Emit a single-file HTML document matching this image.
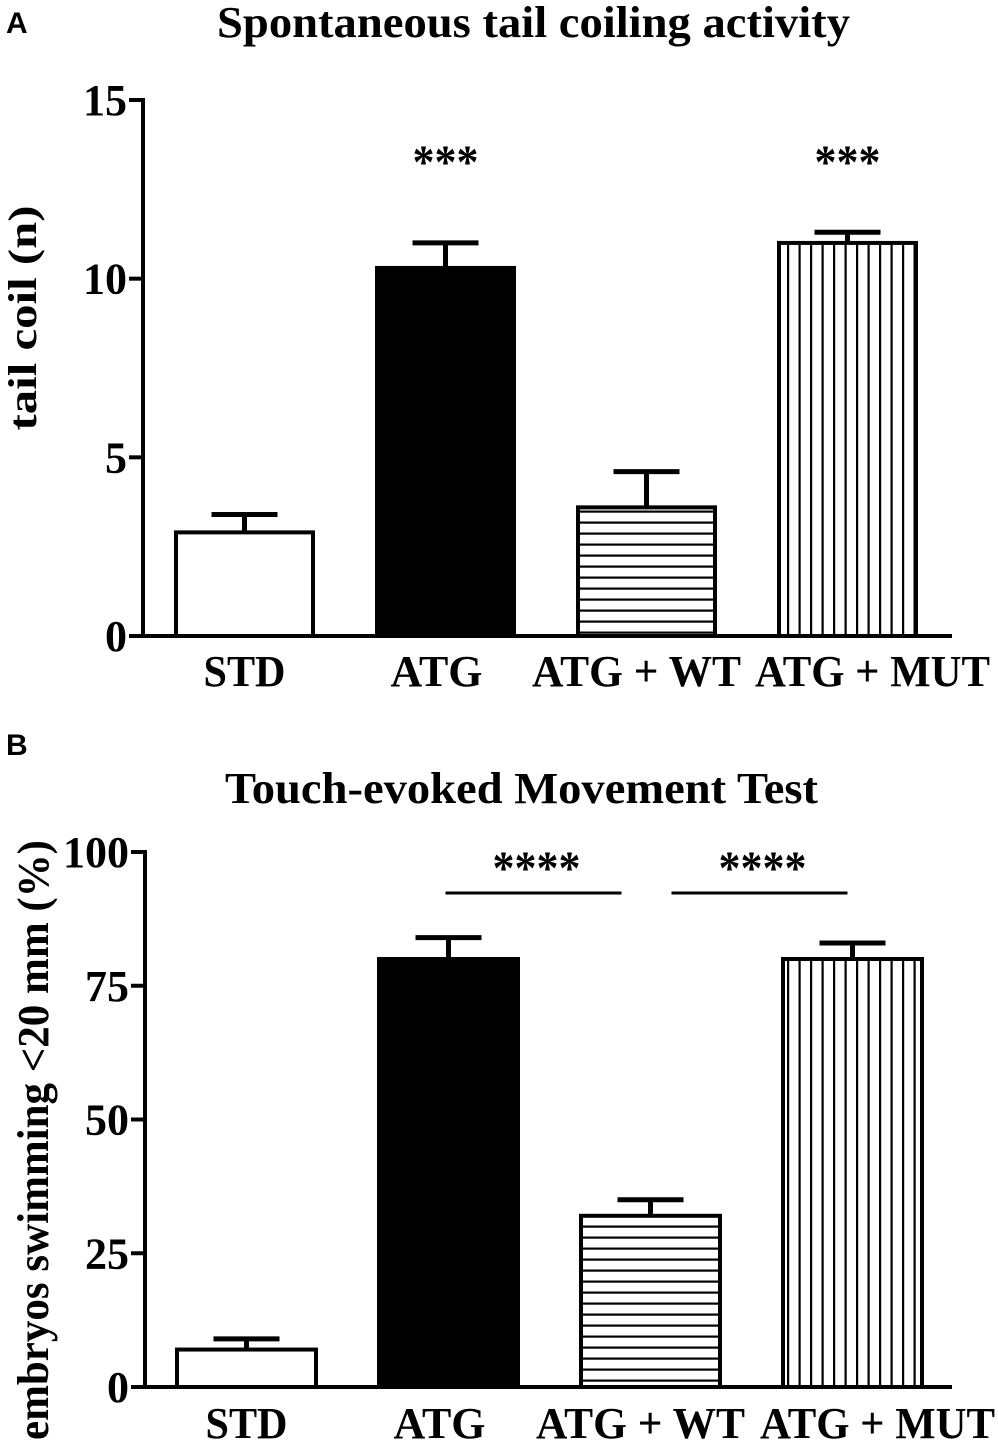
<!DOCTYPE html>
<html><head><meta charset="utf-8"><style>
html,body{margin:0;padding:0;background:#fff}
svg{display:block}
text{font-family:"Liberation Serif",serif;font-weight:bold;fill:#000}
</style></head><body>
<svg id="chart" width="998" height="1442" xmlns="http://www.w3.org/2000/svg">
<defs>
<pattern id="hpat" width="12" height="11" patternUnits="userSpaceOnUse"><rect width="12" height="11" fill="#fff"/><rect y="4.5" width="12" height="2.2" fill="#000"/></pattern>
<pattern id="vpat" width="11.5" height="12" patternUnits="userSpaceOnUse"><rect width="11.5" height="12" fill="#fff"/><rect x="5" width="2.2" height="12" fill="#000"/></pattern>
</defs>
<g id="gA"></g>
<g id="gB"></g>
</svg>
<script>
const categories=["STD","ATG","ATG + WT","ATG + MUT"];
const fills=["#fff","#000","url(#hpat)","url(#vpat)"];
const aValues=[2.9,10.3,3.6,11.0];
const aErrors=[0.5,0.7,1.0,0.3];
const aTicks=[0,5,10,15];
const aStars=["","***","","***"];
const bValues=[7,80,32,80];
const bErrors=[2,4,3,3];
const bTicks=[0,25,50,75,100];
const bSig=[[1,2,"****"],[2,3,"****"]];
const labW=[82,92,209,235];
const labDx=[0,-9,-10,25];
const NS="http://www.w3.org/2000/svg";
function mk(p,tag,a,txt){const e=document.createElementNS(NS,tag);for(const k in a)e.setAttribute(k,a[k]);if(txt!=null)e.textContent=txt;p.appendChild(e);return e;}
function panel(g,cfg){
  const y=v=>cfg.y0-(v-cfg.min)/(cfg.max-cfg.min)*(cfg.y0-cfg.y1);
  const x=i=>cfg.x0+i*cfg.step;
  let e=mk(g,'text',{x:6,y:cfg.letterY,'font-size':30,style:'font-family:Liberation Sans,sans-serif'},cfg.letter);
  
  e=mk(g,'text',{x:cfg.titleX1,y:cfg.titleY,'font-size':44,textLength:cfg.titleW,lengthAdjust:'spacingAndGlyphs'},cfg.title);
  
  e=mk(g,'text',{transform:`translate(${cfg.ylabX},${cfg.ylabC}) rotate(-90)`,'text-anchor':'middle','font-size':cfg.ylabSize,textLength:cfg.ylabW,lengthAdjust:'spacingAndGlyphs'},cfg.ylab);
  
  e=mk(g,'line',{x1:cfg.ax,x2:cfg.ax,y1:y(cfg.max)-2,y2:y(cfg.min)+2,stroke:'#000','stroke-width':4});
  
  cfg.ticks.forEach(t=>{
    let l=mk(g,'line',{x1:cfg.ax-14,x2:cfg.ax,y1:y(t),y2:y(t),stroke:'#000','stroke-width':4});
    
    let s=mk(g,'text',{x:cfg.ax-16,y:y(t)+15,'text-anchor':'end','font-size':44},t);
    
  });
  e=mk(g,'line',{x1:cfg.ax-2,x2:cfg.axEnd,y1:y(cfg.min),y2:y(cfg.min),stroke:'#000','stroke-width':4});
  
  cfg.values.forEach((v,i)=>{
    const bx=x(i),top=y(v),et=y(v+cfg.errors[i]),cx=bx+cfg.bw/2;
    let r=mk(g,'rect',{x:bx,y:top,width:cfg.bw,height:y(cfg.min)-top,fill:fills[i],stroke:'#000','stroke-width':4});
    
    let l=mk(g,'line',{x1:cx,x2:cx,y1:et,y2:top,stroke:'#000','stroke-width':5});
    
    l=mk(g,'line',{x1:cx-33,x2:cx+33,y1:et,y2:et,stroke:'#000','stroke-width':5});
    
    let t=mk(g,'text',{x:cx+labDx[i]-labW[i]/2,y:cfg.labY,'font-size':44,textLength:labW[i],lengthAdjust:'spacingAndGlyphs'},categories[i]);
    
    if(cfg.stars&&cfg.stars[i]){let s=mk(g,'text',{x:cx,y:cfg.starY,'text-anchor':'middle','font-size':48,textLength:66,lengthAdjust:'spacingAndGlyphs'},cfg.stars[i]);
      }
  });
  (cfg.sig||[]).forEach((s,k)=>{
    const xa=x(s[0])+cfg.bw/2,xb=x(s[1])+cfg.bw/2;
    const l1=k==0?xa-3:xa+21, l2=k==0?xb-29:xb-5;
    let l=mk(g,'line',{x1:l1,x2:l2,y1:cfg.sigY,y2:cfg.sigY,stroke:'#000','stroke-width':3});
    
    let t=mk(g,'text',{x:(l1+l2)/2+3,y:cfg.sigY-9,'text-anchor':'middle','font-size':48,textLength:88,lengthAdjust:'spacingAndGlyphs'},s[2]);
    
  });
}
panel(document.getElementById('gA'),{letter:'A',letterY:33,title:'Spontaneous tail coiling activity',titleX1:217,titleW:633,titleY:37,
 ylab:'tail coil (n)',ylabX:36,ylabC:318,ylabW:225,ylabSize:40,ax:143,axEnd:952,y0:636,y1:100,min:0,max:15,ticks:aTicks,
 values:aValues,errors:aErrors,x0:176,step:201,bw:137,labY:686,stars:aStars,starY:178});
panel(document.getElementById('gB'),{letter:'B',letterY:755,title:'Touch-evoked Movement Test',titleX1:225,titleW:593,titleY:803,
 ylab:'embryos swimming <20 mm (%)',ylabX:48,ylabC:1140,ylabW:600,ylabSize:44,ax:145,axEnd:952,y0:1387,y1:852,min:0,max:100,ticks:bTicks,
 values:bValues,errors:bErrors,x0:177,step:202,bw:139,labY:1438,sig:bSig,sigY:893});
</script>
</body></html>
